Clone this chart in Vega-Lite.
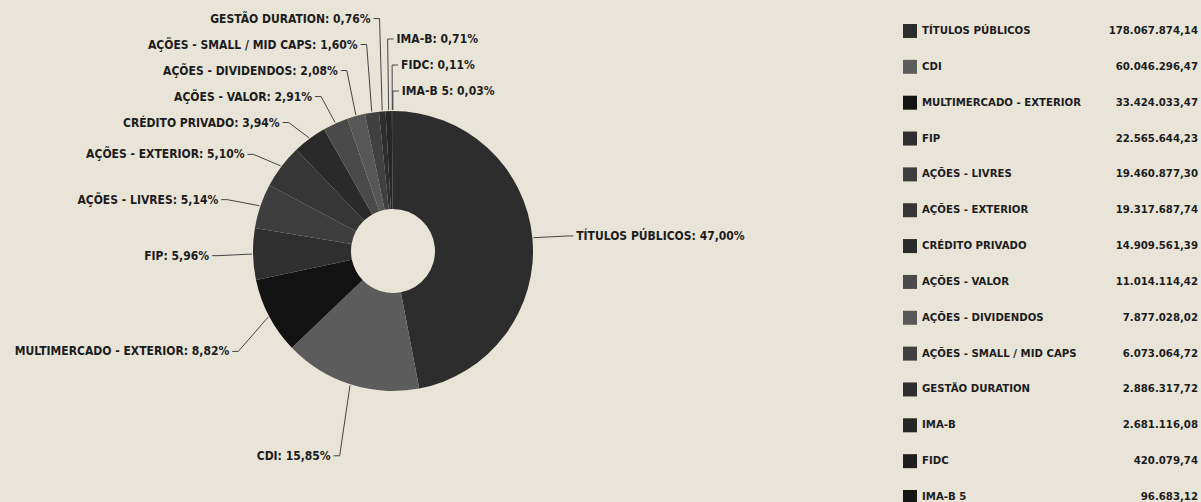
{
  "$schema": "https://vega.github.io/schema/vega-lite/v6.json",
  "background": "#e9e4d8",
  "padding": {"left": 0, "top": 0, "right": 3, "bottom": 0},
  "autosize": {"type": "pad"},
  "bounds": "flush",
  "config": {
    "view": {"stroke": null},
    "locale": {"number": {"decimal": ",", "thousands": ".", "grouping": [3], "currency": ["R$", ""]}},
    "text": {"font": "DejaVu Sans Condensed", "fontWeight": "bold", "fontSize": 12, "fill": "#1c1c1c", "baseline": "middle"}
  },
  "data": {"values": [
    {"cat": "TÍTULOS PÚBLICOS", "value": 178067874.14, "pct": 47.00},
    {"cat": "CDI", "value": 60046296.47, "pct": 15.85},
    {"cat": "MULTIMERCADO - EXTERIOR", "value": 33424033.47, "pct": 8.82},
    {"cat": "FIP", "value": 22565644.23, "pct": 5.96},
    {"cat": "AÇÕES - LIVRES", "value": 19460877.30, "pct": 5.14},
    {"cat": "AÇÕES - EXTERIOR", "value": 19317687.74, "pct": 5.10},
    {"cat": "CRÉDITO PRIVADO", "value": 14909561.39, "pct": 3.94},
    {"cat": "AÇÕES - VALOR", "value": 11014114.42, "pct": 2.91},
    {"cat": "AÇÕES - DIVIDENDOS", "value": 7877028.02, "pct": 2.08},
    {"cat": "AÇÕES - SMALL / MID CAPS", "value": 6073064.72, "pct": 1.60},
    {"cat": "GESTÃO DURATION", "value": 2886317.72, "pct": 0.76},
    {"cat": "IMA-B", "value": 2681116.08, "pct": 0.71},
    {"cat": "FIDC", "value": 420079.74, "pct": 0.11},
    {"cat": "IMA-B 5", "value": 96683.12, "pct": 0.03}
  ]},
  "spacing": 124,
  "hconcat": [
    {
      "width": 786,
      "height": 502,
      "transform": [
        {"joinaggregate": [{"op": "sum", "field": "value", "as": "total"}]},
        {"window": [{"op": "sum", "field": "value", "as": "cum"}], "sort": [{"field": "value", "order": "descending"}], "frame": [null, 0]},
        {"calculate": "(datum.cum - datum.value / 2) / datum.total * 360", "as": "mid"},
        {"calculate": "(datum.mid < 180 || datum.mid > 357.5) ? 'R' : 'L'", "as": "side"},
        {"calculate": "datum.mid > 357.5 ? datum.mid - 360 : datum.mid", "as": "am"},
        {"calculate": "cos(datum.am * PI / 180)", "as": "ca"},
        {"calculate": "sin(datum.am * PI / 180)", "as": "sa"},
        {"calculate": "-(datum.ca > 0 ? 160 : 215) * datum.ca", "as": "ny"},
        {"calculate": "datum.side == 'R' ? -datum.am : datum.am", "as": "key"},
        {"window": [{"op": "row_number", "as": "i"}], "groupby": ["side"], "sort": [{"field": "key", "order": "ascending"}]},
        {"calculate": "datum.ny + datum.i * 26", "as": "t"},
        {"window": [{"op": "min", "field": "t", "as": "tmin"}], "groupby": ["side"], "sort": [{"field": "key", "order": "ascending"}], "frame": [null, 0]},
        {"calculate": "datum.tmin - datum.i * 26", "as": "ly"},
        {"calculate": "175 * datum.sa", "as": "xa"},
        {"calculate": "datum.xa + (datum.side == 'R' ? 6 : -6)", "as": "xt"},
        {"calculate": "datum.xa + (datum.side == 'R' ? 9 : -9)", "as": "tx"},
        {"calculate": "141 * datum.sa", "as": "ex"},
        {"calculate": "-141 * datum.ca", "as": "ey"},
        {"calculate": "datum.cat + ': ' + replace(format(datum.pct / 100, '.2%'), '.', ',')", "as": "label"}
      ],
      "layer": [
        {
          "mark": {"type": "arc", "outerRadius": 140, "innerRadius": 42},
          "encoding": {
            "theta": {"field": "value", "type": "quantitative", "stack": true},
            "order": {"field": "value", "type": "quantitative", "sort": "descending"},
            "color": {
              "field": "cat", "type": "nominal", "legend": null,
              "scale": {
                "domain": ["TÍTULOS PÚBLICOS", "CDI", "MULTIMERCADO - EXTERIOR", "FIP", "AÇÕES - LIVRES", "AÇÕES - EXTERIOR", "CRÉDITO PRIVADO", "AÇÕES - VALOR", "AÇÕES - DIVIDENDOS", "AÇÕES - SMALL / MID CAPS", "GESTÃO DURATION", "IMA-B", "FIDC", "IMA-B 5"],
                "range": ["#2d2d2d", "#5c5c5c", "#121212", "#2f2f2f", "#3e3e3e", "#363636", "#2a2a2a", "#4a4a4a", "#575757", "#404040", "#2e2e2e", "#262626", "#1e1e1e", "#161616"]
              }
            }
          }
        },
        {
          "mark": {"type": "rule", "stroke": "#444444", "strokeWidth": 1},
          "encoding": {
            "x": {"field": "xa", "type": "quantitative", "scale": {"domain": [-393, 393], "nice": false, "zero": false}, "axis": null},
            "y": {"field": "ly", "type": "quantitative", "scale": {"domain": [-251, 251], "reverse": true, "nice": false, "zero": false}, "axis": null},
            "x2": {"field": "ex"},
            "y2": {"field": "ey"}
          }
        },
        {
          "mark": {"type": "rule", "stroke": "#444444", "strokeWidth": 1},
          "encoding": {
            "x": {"field": "xa", "type": "quantitative", "scale": {"domain": [-393, 393], "nice": false, "zero": false}, "axis": null},
            "y": {"field": "ly", "type": "quantitative", "scale": {"domain": [-251, 251], "reverse": true, "nice": false, "zero": false}, "axis": null},
            "x2": {"field": "xt"}
          }
        },
        {
          "transform": [{"filter": "datum.side == 'L'"}],
          "mark": {"type": "text", "align": "right"},
          "encoding": {
            "x": {"field": "tx", "type": "quantitative", "scale": {"domain": [-393, 393], "nice": false, "zero": false}, "axis": null},
            "y": {"field": "ly", "type": "quantitative", "scale": {"domain": [-251, 251], "reverse": true, "nice": false, "zero": false}, "axis": null},
            "text": {"field": "label"}
          }
        },
        {
          "transform": [{"filter": "datum.side == 'R'"}],
          "mark": {"type": "text", "align": "left"},
          "encoding": {
            "x": {"field": "tx", "type": "quantitative", "scale": {"domain": [-393, 393], "nice": false, "zero": false}, "axis": null},
            "y": {"field": "ly", "type": "quantitative", "scale": {"domain": [-251, 251], "reverse": true, "nice": false, "zero": false}, "axis": null},
            "text": {"field": "label"}
          }
        }
      ]
    },
    {
      "width": 288,
      "height": 502,
      "encoding": {
        "y": {"field": "cat", "type": "nominal", "sort": {"field": "value", "order": "descending"}, "scale": {"type": "point", "range": [31, 497], "padding": 0}, "axis": null}
      },
      "layer": [
        {
          "mark": {"type": "square", "size": 196, "opacity": 1, "filled": true},
          "encoding": {
            "x": {"value": 0},
            "color": {"field": "cat", "type": "nominal", "legend": null}
          }
        },
        {
          "mark": {"type": "text", "align": "left", "dx": 12, "fontSize": 11.3},
          "encoding": {
            "x": {"value": 0},
            "text": {"field": "cat"}
          }
        },
        {
          "mark": {"type": "text", "align": "right", "fontSize": 11.3},
          "encoding": {
            "x": {"value": "width"},
            "text": {"field": "value", "type": "quantitative", "format": ",.2f"}
          }
        }
      ]
    }
  ]
}
